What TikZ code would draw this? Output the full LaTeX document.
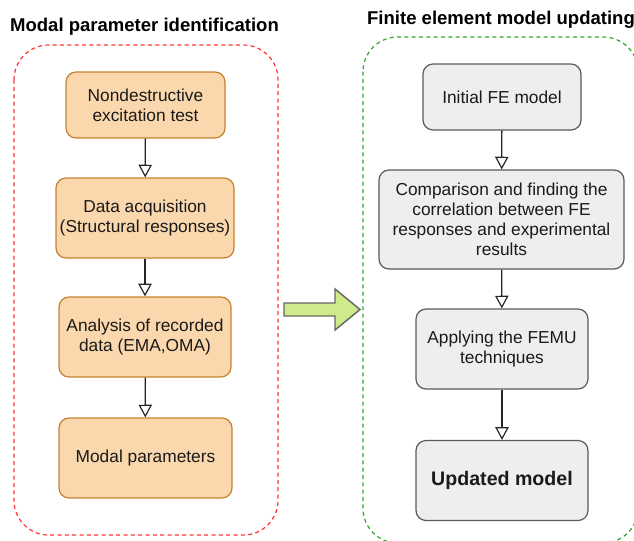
\documentclass[tikz,border=0pt]{standalone}
\usepackage{fontspec}
\setmainfont{Liberation Sans}
\usepackage{tikz}
\usetikzlibrary{arrows.meta}

\definecolor{orangefill}{HTML}{FAD7AC}
\definecolor{orangeline}{HTML}{C4822F}
\definecolor{grayfill}{HTML}{EEEEEE}
\definecolor{grayline}{HTML}{5A5A5A}
\definecolor{redframe}{HTML}{FF3333}
\definecolor{greenframe}{HTML}{2EA82E}
\definecolor{arrowfill}{HTML}{CDEB8B}
\definecolor{textcol}{HTML}{1A1A1A}

\tikzset{
  modalbox/.style={draw=orangeline, fill=orangefill, line width=0.9pt,
    rounded corners=7.5pt, align=center, text=textcol,
    font=\fontsize{13}{15}\selectfont, inner sep=0pt},
  febox/.style={draw=grayline, fill=grayfill, line width=0.9pt,
    rounded corners=7.5pt, align=center, text=textcol,
    font=\fontsize{13}{15}\selectfont, inner sep=0pt},
  flow/.style={draw=black!85, line width=0.95pt,
    -{Triangle[open, length=9.5pt, width=10pt, line width=0.9pt]}},
  grouptitle/.style={font=\fontsize{13.9}{16}\bfseries, text=black},
}

\begin{document}
\begin{tikzpicture}[x=0.75pt, y=-0.75pt]
  \clip (0,0) rectangle (634,540);
  \useasboundingbox (0,0) rectangle (634,540);

  % group frames and their titles
  \draw[redframe, line width=0.9pt, dash pattern=on 3pt off 2.5pt, rounded corners=26pt]
    (14,45) rectangle (278,535);
  \draw[greenframe, line width=0.9pt, dash pattern=on 3pt off 2.5pt, rounded corners=26pt]
    (363,37) rectangle (638,543);
  \node[grouptitle] (ttlmodal) at (144.5,27) {Modal parameter identification};
  \node[grouptitle] (ttlfemu) at (501,19.5) {Finite element model updating};

  % left column
  \node[modalbox, minimum width=159*0.75pt, minimum height=66*0.75pt] (ndt) at (145.5,105)
    {Nondestructive\\excitation test};
  \node[modalbox, minimum width=178*0.75pt, minimum height=80*0.75pt] (daq) at (145,218)
    {Data acquisition\\(Structural responses)};
  \node[modalbox, minimum width=172*0.75pt, minimum height=80*0.75pt] (ana) at (145,337)
    {Analysis of recorded\\data (EMA,OMA)};
  \node[modalbox, minimum width=173*0.75pt, minimum height=80*0.75pt] (mpar) at (145.5,458)
    {Modal parameters};

  % right column
  \node[febox, minimum width=158*0.75pt, minimum height=66*0.75pt] (init) at (502,97)
    {Initial FE model};
  \node[febox, minimum width=245*0.75pt, minimum height=99*0.75pt] (comp) at (501.5,219.5)
    {Comparison and finding the\\correlation between FE\\responses and experimental\\results};
  \node[febox, minimum width=172*0.75pt, minimum height=80*0.75pt] (femu) at (502,349)
    {Applying the FEMU\\techniques};
  \node[febox, minimum width=172*0.75pt, minimum height=80*0.75pt,
    font=\fontsize{14.7}{17}\bfseries\selectfont] (upd) at (502,480.5)
    {Updated model};

  \draw[flow] (ndt) -- (daq);
  \draw[flow] (daq) -- (ana);
  \draw[flow] (ana) -- (mpar);
  \draw[flow] (init) -- (comp);
  \draw[flow] (comp) -- (femu);
  \draw[flow] (femu) -- (upd);

  % block arrow between the two groups
  \draw[fill=arrowfill, draw=black!60, line width=1.1pt, line join=miter]
    (284,303) -- (335,303) -- (335,289) -- (360,309.5) -- (335,330) -- (335,316) -- (284,316) -- cycle;
\end{tikzpicture}
\end{document}
